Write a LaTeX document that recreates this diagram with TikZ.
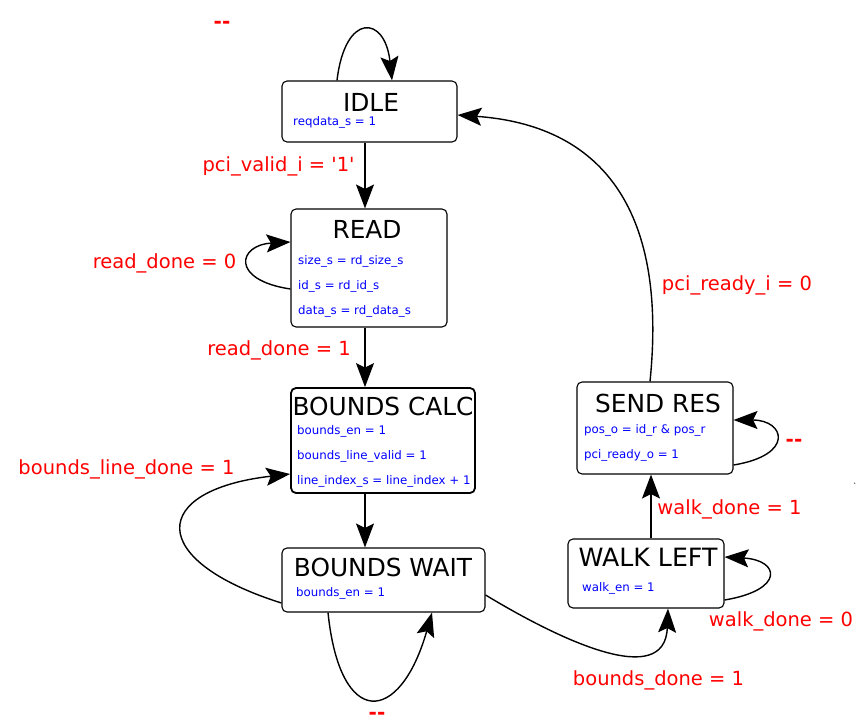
\documentclass[tikz,border=0pt]{standalone}
\usepackage{fontspec}
\setmainfont{DejaVu Sans}
\usetikzlibrary{arrows.meta}
\begin{document}
\begin{tikzpicture}[x=1pt,y=-1pt,
  state/.style={draw=black, line width=1.1pt, rounded corners=5pt, fill=white, inner sep=0pt},
  thickstate/.style={state, line width=1.8pt},
  ttl/.style={font=\fontsize{24.8}{27}\selectfont, inner sep=0pt, text=black},
  act/.style={font=\fontsize{11.8}{13}\selectfont, inner sep=0pt, text=blue, anchor=west},
  lbl/.style={font=\fontsize{19.5}{22}\selectfont, inner sep=0pt, text=red},
  dsh/.style={font=\fontsize{20}{22}\selectfont\bfseries, inner sep=0pt, text=red},
  arr/.style={line width=1.4pt, -{Stealth[length=24pt,width=18pt,inset=4.5pt]}},
  ]
\useasboundingbox (0,0) rectangle (867,723);
\fill[white] (0,0) rectangle (867,723);

% states
\node[state, minimum width=175pt, minimum height=61pt] (idle) at (369.5,111.5) {};
\node[state, minimum width=156pt, minimum height=118pt] (read) at (369,268) {};
\node[thickstate, minimum width=184pt, minimum height=105pt] (calc) at (383,440.5) {};
\node[state, minimum width=203pt, minimum height=64pt] (wait) at (383.5,580) {};
\node[state, minimum width=156pt, minimum height=92pt] (send) at (655,428) {};
\node[state, minimum width=156pt, minimum height=69pt] (walk) at (646,573.5) {};

% state texts
\node[ttl] (idlet) at (371,102) {IDLE};
\node[act] (idlea) at (293,122) {reqdata\_s = 1};

\node[ttl] (readt) at (367,229) {READ};
\node[act] (reada) at (298,261) {size\_s = rd\_size\_s};
\node[act] (readb) at (298,286) {id\_s = rd\_id\_s};
\node[act] (readc) at (298,311) {data\_s = rd\_data\_s};

\node[ttl] (calct) at (383,406) {BOUNDS CALC};
\node[act] (calca) at (297,431) {bounds\_en = 1};
\node[act] (calcb) at (297,456) {bounds\_line\_valid = 1};
\node[act] (calcc) at (297,481) {line\_index\_s = line\_index + 1};

\node[ttl] (waitt) at (383,567) {BOUNDS WAIT};
\node[act] (waita) at (296,593) {bounds\_en = 1};

\node[ttl] (sendt) at (658,403) {SEND RES};
\node[ttl, font=\fontsize{25.2}{28}\selectfont] (walkt) at (648,557) {WALK LEFT};
\node[act] (senda) at (584,430) {pos\_o = id\_r \& pos\_r};
\node[act] (sendb) at (584,455) {pci\_ready\_o = 1};
\node[act] (walka) at (582,588) {walk\_en = 1};

% transitions
\draw[arr] ([xshift=-32.5pt]idle.north) .. controls (345,12) and (385,15) .. ([xshift=22.5pt]idle.north);
\draw[arr] ([xshift=-4.5pt]idle.south) -- ([xshift=-4pt]read.north);
\draw[arr] ([yshift=-21pt]read.west) .. controls (230,280) and (238,245) .. ([yshift=26pt]read.west);
\draw[arr] ([xshift=-4pt]read.south) -- ([xshift=-18pt]calc.north);
\draw[arr] ([xshift=-18pt]calc.south) -- ([xshift=-18.5pt]wait.north);
\draw[arr] ([yshift=-23pt]wait.west) .. controls (145,560) and (150,490) .. ([yshift=-33.5pt]calc.west);
\draw[arr] ([xshift=-55.5pt]wait.south) .. controls (340,730) and (400,725) .. ([xshift=48.5pt]wait.south);
\draw[arr] ([yshift=-15pt]wait.east) .. controls (560,640) and (665,690) .. ([xshift=22pt]walk.south);
\draw[arr] ([yshift=-26.5pt]walk.east) .. controls (785,590) and (780,560) .. ([yshift=16.5pt]walk.east);
\draw[arr] ([xshift=5pt]walk.north) -- ([xshift=-4pt]send.south);
\draw[arr] ([yshift=-37pt]send.east) .. controls (795,455) and (785,420) .. ([yshift=8pt]send.east);
\draw[arr] ([xshift=-5pt]send.north) .. controls (668,205) and (598,125) .. ([yshift=-3.5pt]idle.east);

% labels
\node[dsh] (l1) at (222,24.5) {-{}-};
\node[lbl] (l2) at (278.5,166.5) {pci\_valid\_i = \textquotesingle1\textquotesingle};
\node[lbl] (l3) at (164.5,263) {read\_done = 0};
\node[lbl] (l4) at (279,350) {read\_done = 1};
\node[lbl] (l5) at (126.5,469) {bounds\_line\_done = 1};
\node[dsh] (l6) at (377,716) {-{}-};
\node[lbl] (l7) at (658.5,680) {bounds\_done = 1};
\node[lbl] (l8) at (781,621) {walk\_done = 0};
\node[lbl] (l9) at (729.5,509) {walk\_done = 1};
\node[dsh] (l10) at (794,442.5) {-{}-};
\node[lbl] (l11) at (737,285) {pci\_ready\_i = 0};
\node[font=\fontsize{8}{9}\selectfont, inner sep=0pt] (tick) at (855,486) {\textasciigrave};
\end{tikzpicture}
\end{document}
